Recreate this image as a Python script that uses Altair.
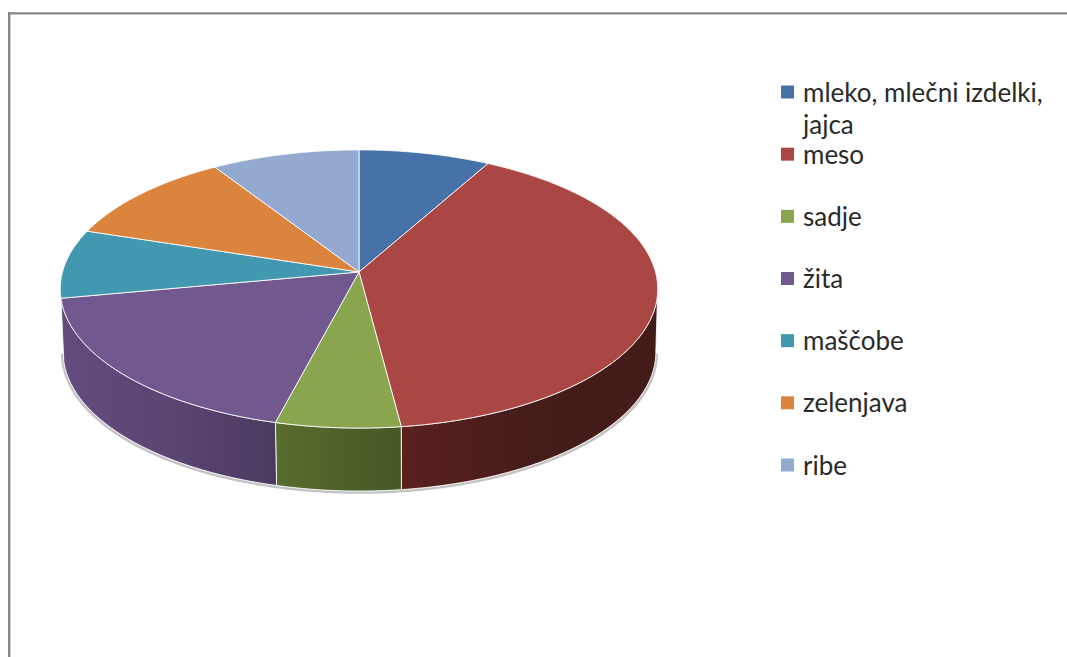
import math
import altair as alt

# Food groups and their shares of the pie, in percent
names = ["mleko, mlečni izdelki,\njajca", "meso", "sadje", "žita", "maščobe", "zelenjava", "ribe"]
shares = [8, 40, 6, 18, 8, 11, 9]
top_colors = ["#4672A8", "#AA4644", "#89A54E", "#71588F", "#4198AF", "#DB843D", "#93A9CF"]

# Shaded rim gradients (left to right) for the slices that face the viewer
wall_stops = {
    "sadje": ["#586D30", "#4F6129", "#465826"],
    "žita": ["#624C7E", "#594672", "#4B3A60"],
    "meso": ["#5A201E", "#451C1A", "#431B19"],
}

# Perspective tilted disc: apex, radii, foreshortening and rim depth
CX, CY, A, B, K = 359.0, 272.0, 296.5, 137.0, -0.122
DEPTH, RIM_SHRINK, RIM_SHIFT = 63.0, 0.992, 0.5
SIDE_LIMIT = math.degrees(math.atan2(math.sqrt(1 - K * K), K))  # bearing of the disc's right silhouette

identity = dict(type="identity", scale=1, translate=[0, 0])


def project(bearing, depth=0.0, shrink=1.0, shift=0.0):
    a = math.radians(bearing)
    u, v = math.sin(a), -math.cos(a)
    w = 1 + K * v
    return [CX + shift + shrink * A * u / w, CY + depth + B * v / w]


def arc(a0, a1, depth=0.0, shrink=1.0, shift=0.0):
    n = max(2, int(abs(a1 - a0) * 2))
    return [project(a0 + (a1 - a0) * i / n, depth, shrink, shift) for i in range(n + 1)]


def feature(kind, coords, name):
    return {"type": "Feature", "geometry": {"type": kind, "coordinates": coords}, "properties": {"name": name}}


# Slice bearings, clockwise from twelve o'clock
edges = [0.0]
for s in shares:
    edges.append(edges[-1] + s * 3.6)

top_features = []
for i, name in enumerate(names):
    ring = [[CX, CY]] + arc(edges[i], edges[i + 1]) + [[CX, CY]]
    top_features.append(feature("Polygon", [ring], name))

wall_layers = []
for i, name in enumerate(names):
    a0 = max(edges[i], SIDE_LIMIT)
    a1 = min(edges[i + 1], 360 - SIDE_LIMIT)
    if name not in wall_stops or a1 <= a0:
        continue
    upper = arc(a0, a1)
    lower = arc(a1, a0, DEPTH, RIM_SHRINK, RIM_SHIFT)
    ring = upper + lower + [upper[0]]
    gradient = alt.Gradient(
        gradient="linear", x1=0, x2=1, y1=0, y2=0,
        stops=[alt.GradientStop(offset=o, color=c) for o, c in zip([0, 0.5, 1], wall_stops[name])],
    )
    wall_layers.append(
        alt.Chart(alt.Data(values=[feature("Polygon", [ring], name)]))
        .mark_geoshape(fill=gradient, stroke="#ffffff", strokeWidth=1, strokeOpacity=0.85)
        .project(**identity)
    )

# Soft grey shadow hugging the lower rim
shadow_line = arc(SIDE_LIMIT, 360 - SIDE_LIMIT, DEPTH + 1.5, RIM_SHRINK + 0.003, RIM_SHIFT)
shadow = (
    alt.Chart(alt.Data(values=[feature("LineString", shadow_line, "shadow")]))
    .mark_geoshape(filled=False, stroke="#b4b4b4", strokeWidth=2.5, strokeOpacity=0.8)
    .project(**identity)
)

color_scale = alt.Scale(domain=names, range=top_colors)

top = (
    alt.Chart(alt.Data(values=top_features))
    .mark_geoshape(stroke="#ffffff", strokeWidth=1, strokeOpacity=0.85)
    .encode(color=alt.Color("properties.name:N", scale=color_scale, legend=None))
    .project(**identity)
)

# Key on the right: one swatch and one label per food group
key_data = alt.Data(values=[{"name": n} for n in names])
key_y = alt.Y("name:N", scale=alt.Scale(domain=names, range=[92, 465], padding=0), axis=None)

swatches = (
    alt.Chart(key_data)
    .mark_square(size=169, opacity=1, strokeWidth=0)
    .encode(
        x=alt.value(787.5),
        y=key_y,
        color=alt.Color("name:N", scale=color_scale, legend=None),
    )
)

labels = (
    alt.Chart(key_data)
    .mark_text(
        align="left",
        baseline="middle",
        dy=1.5,
        font="Lato",
        fontSize=26,
        color="#2a2a2a",
        lineBreak="\n",
        lineHeight=32,
    )
    .encode(x=alt.value(803), y=key_y, text="name:N")
)

frame_top = alt.Chart(alt.Data(values=[{"a": 0}])).mark_rule(color="#868686", strokeWidth=2.4).encode(
    x=alt.value(8), x2=alt.value(1067), y=alt.value(13.4)
)
frame_left = alt.Chart(alt.Data(values=[{"a": 0}])).mark_rule(color="#868686", strokeWidth=2.4).encode(
    x=alt.value(9.2), y=alt.value(12), y2=alt.value(657)
)

chart = (
    alt.layer(frame_top, frame_left, shadow, *wall_layers, top, swatches, labels)
    .properties(
        width=1067,
        height=657,
        padding=0,
        autosize=alt.AutoSizeParams(type="none"),
        background="#ffffff",
    )
    .configure_view(stroke=None)
)

chart.save("out.html", embed_options={"renderer": "svg", "actions": False})
